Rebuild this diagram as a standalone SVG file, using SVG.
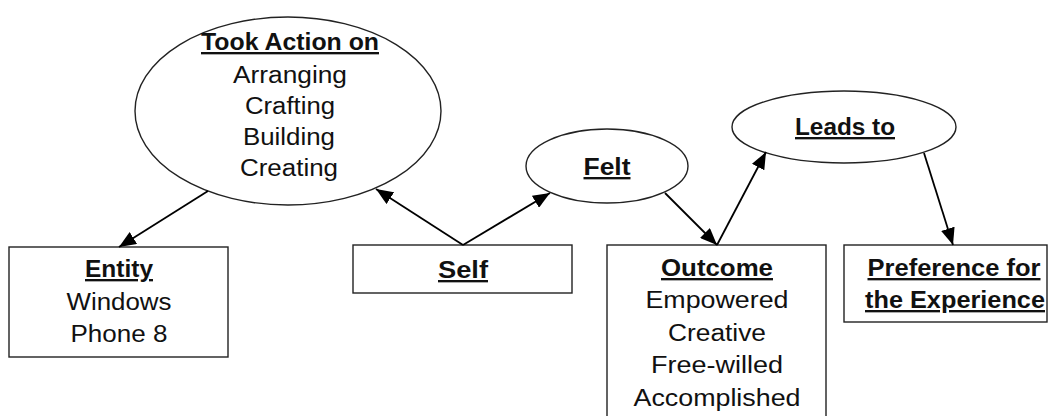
<svg xmlns="http://www.w3.org/2000/svg" width="1052" height="416" viewBox="0 0 1052 416">
<defs>
<marker id="arr" markerUnits="userSpaceOnUse" markerWidth="18" markerHeight="14" refX="17" refY="7" orient="auto">
<path d="M0,0 L17,7 L0,14 Z" fill="#000"/>
</marker>
<style>
.shape{fill:#fff;stroke:#222;stroke-width:1.4}
.t{font-family:"Liberation Sans",Arial,sans-serif;font-size:23.5px;fill:#111;text-anchor:middle}
.b{font-weight:bold;text-decoration:underline}
.c{stroke:#000;stroke-width:1.8;fill:none;marker-end:url(#arr)}
</style>
</defs>
<rect width="1052" height="416" fill="#fff"/>
<g id="took-action">
<ellipse class="shape" cx="288" cy="111" rx="153" ry="94"/>
<text class="t b" x="290" y="50" textLength="178" lengthAdjust="spacingAndGlyphs">Took Action on</text>
<text class="t" x="290" y="83" textLength="114" lengthAdjust="spacingAndGlyphs">Arranging</text>
<text class="t" x="290" y="114" textLength="90" lengthAdjust="spacingAndGlyphs">Crafting</text>
<text class="t" x="289" y="145" textLength="92" lengthAdjust="spacingAndGlyphs">Building</text>
<text class="t" x="289" y="176" textLength="98" lengthAdjust="spacingAndGlyphs">Creating</text>
</g>
<g id="entity">
<rect class="shape" x="9" y="247" width="219" height="110"/>
<text class="t b" x="119" y="277" textLength="68" lengthAdjust="spacingAndGlyphs">Entity</text>
<text class="t" x="119" y="310" textLength="105" lengthAdjust="spacingAndGlyphs">Windows</text>
<text class="t" x="119" y="342" textLength="97" lengthAdjust="spacingAndGlyphs">Phone 8</text>
</g>
<g id="self">
<rect class="shape" x="353" y="245" width="219" height="48"/>
<text class="t b" x="463" y="278" textLength="50" lengthAdjust="spacingAndGlyphs">Self</text>
</g>
<g id="felt">
<ellipse class="shape" cx="607" cy="166" rx="81" ry="37"/>
<text class="t b" x="607" y="175" textLength="47" lengthAdjust="spacingAndGlyphs">Felt</text>
</g>
<g id="outcome">
<rect class="shape" x="607" y="245" width="219" height="180"/>
<text class="t b" x="717" y="276" textLength="112" lengthAdjust="spacingAndGlyphs">Outcome</text>
<text class="t" x="717" y="308" textLength="143" lengthAdjust="spacingAndGlyphs">Empowered</text>
<text class="t" x="717" y="341" textLength="98" lengthAdjust="spacingAndGlyphs">Creative</text>
<text class="t" x="717" y="373" textLength="132" lengthAdjust="spacingAndGlyphs">Free-willed</text>
<text class="t" x="717" y="406" textLength="167" lengthAdjust="spacingAndGlyphs">Accomplished</text>
</g>
<g id="leads-to">
<ellipse class="shape" cx="844" cy="127" rx="112" ry="36"/>
<text class="t b" x="845" y="135" textLength="100" lengthAdjust="spacingAndGlyphs">Leads to</text>
</g>
<g id="preference">
<rect class="shape" x="844" y="245" width="203" height="77"/>
<text class="t b" x="954" y="276" textLength="173" lengthAdjust="spacingAndGlyphs">Preference for</text>
<text class="t b" x="955" y="308" textLength="180" lengthAdjust="spacingAndGlyphs">the Experience</text>
</g>
<g id="connectors">
<line class="c" x1="208" y1="191" x2="119" y2="247"/>
<line class="c" x1="463" y1="245" x2="376" y2="189"/>
<line class="c" x1="463" y1="245" x2="550" y2="193"/>
<line class="c" x1="665" y1="193" x2="717" y2="245"/>
<line class="c" x1="717" y1="245" x2="766" y2="152"/>
<line class="c" x1="924" y1="153" x2="953" y2="245"/>
</g>
</svg>
